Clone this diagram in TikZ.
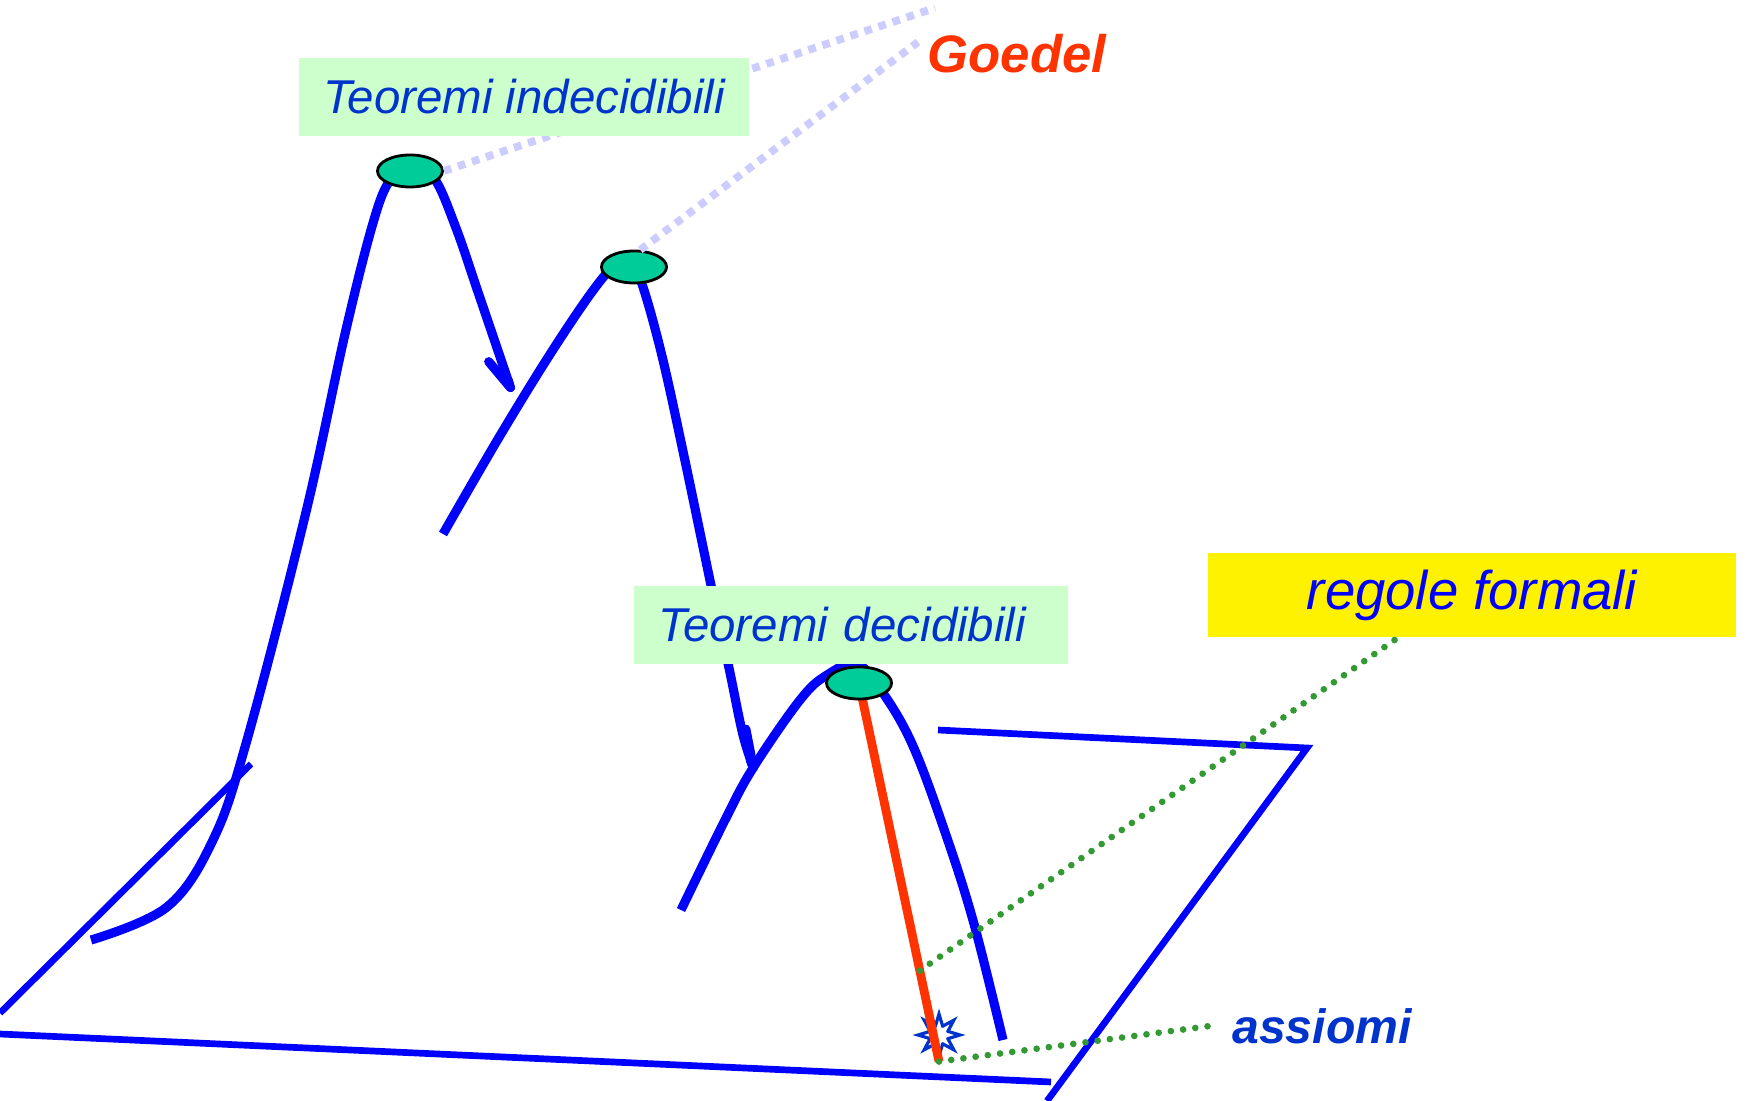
\documentclass[tikz,border=0pt]{standalone}
\usepackage{amsmath}
\usepackage{tikz}
\usepackage{xcolor}
\usepackage{fontspec}
\setmainfont{Liberation Sans}
\usetikzlibrary{arrows.meta,shapes.geometric,calc}

\definecolor{hillblue}{RGB}{0,0,255}
\definecolor{labelblue}{RGB}{0,51,204}
\definecolor{goedelred}{RGB}{255,51,0}
\definecolor{peakgreen}{RGB}{0,204,153}
\definecolor{boxgreen}{RGB}{204,255,204}
\definecolor{rulegreen}{RGB}{51,153,51}
\definecolor{lilac}{RGB}{204,204,255}

\tikzset{
  plane/.style={hillblue, line width=1.9pt},
  hill/.style={hillblue, line width=2.6pt},
  peak/.style={ellipse, draw=black, line width=0.8pt, fill=peakgreen,
    minimum width=0.65cm, minimum height=0.32cm, inner sep=0pt},
  thmbox/.style={fill=boxgreen, text=labelblue, inner ysep=0pt, inner xsep=0.24cm,
    font=\fontsize{13.5}{16}\selectfont\itshape, minimum height=0.77cm},
  goedelline/.style={lilac, line width=2.2pt, dash pattern=on 2.2pt off 2pt},
  ruleline/.style={rulegreen, line width=1.9pt, line cap=round,
    dash pattern=on 0pt off 3.5pt},
}

\begin{document}
\begin{tikzpicture}[x=0.01cm, y=-0.01cm]
    \useasboundingbox (0,0) rectangle (1749,1101);

    % Draw the base plane
    \draw[plane] (0,1034) -- (1051,1082);
    \draw[plane] (1047,1101) -- (1307,748) -- (938,730);
    \draw[plane] (0,1013) -- (251,764);

    % Peak positions and the axiom star
    \coordinate (top1) at (410,171);
    \coordinate (top2) at (634,267);
    \coordinate (top3) at (859,683);
    \node[star, star points=8, star point ratio=2.2, draw=labelblue, fill=white,
      line width=0.9pt, minimum size=0.42cm, inner sep=0pt] (axstar) at (939,1035) {};
    \fill[white] (axstar.center) circle[radius=0.08cm];

    % Draw the hills
    \draw[hill, -{Straight Barb[right, round, length=9pt, width=7pt]}]
      plot[smooth, tension=0.6] coordinates {(91,940) (167,907) (213,840) (247,740)
      (306,512) (345,334) (373,223) (390,180) (410,165) (434,178) (456,228)
      (479,295) (512,392)};
    \draw[hill, -{Straight Barb[left, round, length=11pt, width=4pt]}]
      plot[smooth, tension=0.6] coordinates {(443,534) (501,434) (556,345)
      (601,280) (628,255) (642,284) (662,356) (684,456) (712,590) (729,668)
      (743,735) (755,772)};
    \draw[hill]
      plot[smooth, tension=0.6] coordinates {(681,910) (725,820) (753,768)
      (800,700) (827,675) (857,664) (883,693) (913,746) (946,835) (974,924)
      (1003,1040)};

    % Draw the proof path down to the axioms
    \draw[goedelred, line width=2.5pt] (top3) -- coordinate[pos=0.76] (fork) (axstar.south);

    % Draw the peaks
    \node[peak] (peak1) at (top1) {};
    \node[peak] (peak2) at (top2) {};
    \node[peak] (peak3) at (top3) {};

    % Draw the lines to Goedel
    \coordinate (goedelA) at (935,8);
    \coordinate (goedelB) at (918,42);
    \draw[goedelline] (peak1.east) -- (goedelA);
    \draw[goedelline] (peak2.70) -- (goedelB);

    % Draw the labels
    \node[thmbox, minimum width=4.5cm] (undec) at (524,97) {Teoremi indecidibili};
    \node[thmbox, text width=3.85cm, align=left] (dec) at (851,625) {Teoremi decidibili};
    \node[fill=yellow, text=hillblue, inner sep=0pt, minimum width=5.28cm,
      minimum height=0.84cm, font=\fontsize{15.5}{18}\selectfont\itshape]
      (rules) at (1472,595) {regole formali};
    \node[text=goedelred, font=\fontsize{15}{18}\selectfont\bfseries\itshape]
      (goedel) at (1017,54) {Goedel};
    \node[text=labelblue, font=\fontsize{13.7}{16}\selectfont\bfseries\itshape]
      (axioms) at (1322,1026) {assiomi};

    % Draw the dotted rule lines
    \draw[ruleline] (fork) -- ($(rules.south west)!0.36!(rules.south east)$);
    \draw[ruleline] (axstar.south) -- ([xshift=-0.1cm]axioms.west);
\end{tikzpicture}
\end{document}
